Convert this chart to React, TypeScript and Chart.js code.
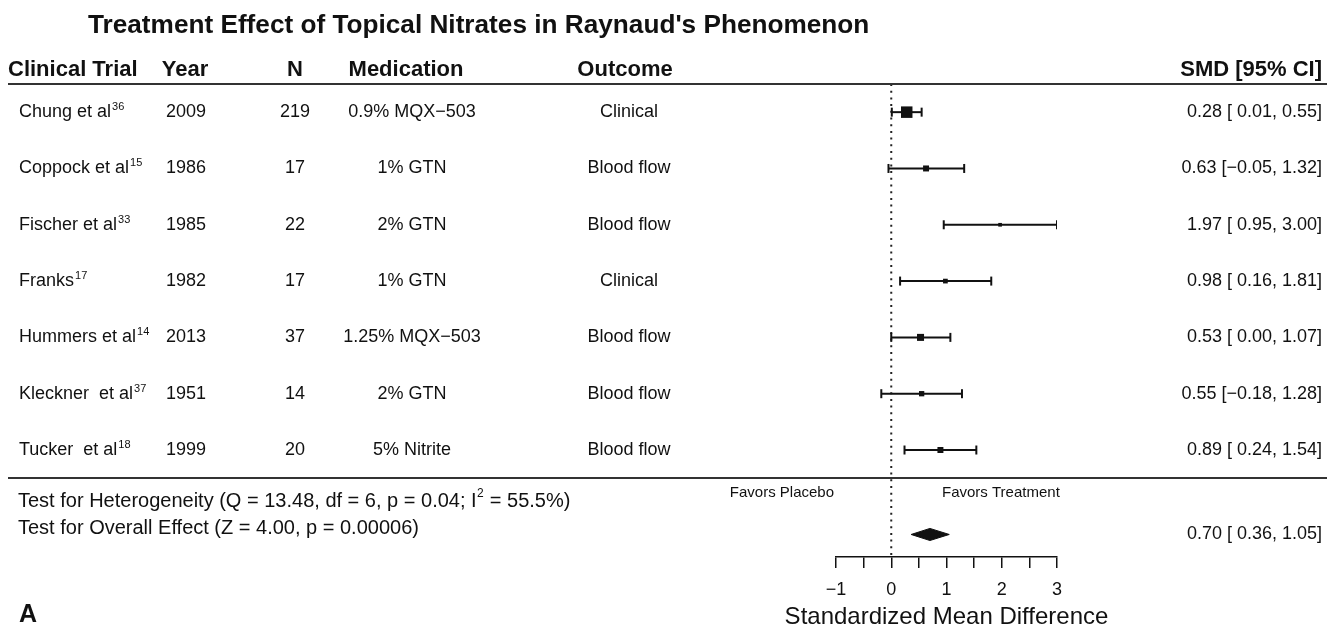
import React, { useEffect, useRef } from 'react';
import { Chart, registerables } from 'chart.js';

Chart.register(...registerables);

const FONT = '"Liberation Sans", Arial, Helvetica, sans-serif';
const INK = '#111111';

// ---- data ----
const chartTitle = "Treatment Effect of Topical Nitrates in Raynaud's Phenomenon";
const headers = ['Clinical Trial', 'Year', 'N', 'Medication', 'Outcome', 'SMD [95% CI]'];
const trials = ['Chung et al', 'Coppock et al', 'Fischer et al', 'Franks', 'Hummers et al', 'Kleckner  et al', 'Tucker  et al'];
const refs = ['36', '15', '33', '17', '14', '37', '18'];
const years = ['2009', '1986', '1985', '1982', '2013', '1951', '1999'];
const sampleN = [219, 17, 22, 17, 37, 14, 20];
const medications = ['0.9% MQX\u2212503', '1% GTN', '2% GTN', '1% GTN', '1.25% MQX\u2212503', '2% GTN', '5% Nitrite'];
const outcomes = ['Clinical', 'Blood flow', 'Blood flow', 'Clinical', 'Blood flow', 'Blood flow', 'Blood flow'];
const smd = [0.28, 0.63, 1.97, 0.98, 0.53, 0.55, 0.89];
const ciLow = [0.01, -0.05, 0.95, 0.16, 0.0, -0.18, 0.24];
const ciHigh = [0.55, 1.32, 3.0, 1.81, 1.07, 1.28, 1.54];
// relative study weight (box size relative to the largest box)
const relWeight = [100, 52, 32, 41, 61, 46, 52];
const overallSMD = [0.7];
const overallLow = [0.36];
const overallHigh = [1.05];
const hetTextA = 'Test for Heterogeneity (Q = 13.48, df = 6, p = 0.04; I';
const hetSup = '2';
const hetTextB = ' = 55.5%)';
const overallText = 'Test for Overall Effect (Z = 4.00, p = 0.00006)';
const favorsLeft = 'Favors Placebo';
const favorsRight = 'Favors Treatment';
const xTitle = 'Standardized Mean Difference';
const xTicks = [-1, -0.5, 0, 0.5, 1, 1.5, 2, 2.5, 3];
const xMajorTicks = [-1, 0, 1, 2, 3];
const panelLabel = 'A';

// ---- helpers ----
const minus = (v: number, d: number) => (v < 0 ? '\u2212' : '') + Math.abs(v).toFixed(d);
const lowFmt = (v: number) => (v < 0 ? '\u2212' : ' ') + Math.abs(v).toFixed(2);
const ciLabel = (e: number, l: number, h: number) => `${e.toFixed(2)} [${lowFmt(l)}, ${minus(h, 2)}]`;

const rowsY = trials.map((_, i) => trials.length - i);
const Y_TOP = 7.5;
const Y_BOTTOM = -0.9;
const SUMMARY_Y = -0.5;
const MAX_BOX = 11.5;

const fnt = (s: number, b = false) => `${b ? 'bold ' : ''}${s}px ${FONT}`;

const tablePlugin = {
  id: 'forestTable',
  beforeDraw(chart: any) {
    const { ctx, width, height } = chart;
    ctx.save();
    ctx.fillStyle = '#ffffff';
    ctx.fillRect(0, 0, width, height);
    ctx.restore();
  },
  afterDraw(chart: any) {
    const { ctx } = chart;
    const ys = chart.scales.y;
    const xs = chart.scales.x;
    const py = (v: number) => ys.getPixelForValue(v);
    ctx.save();
    ctx.fillStyle = INK;
    ctx.textBaseline = 'middle';

    // title
    ctx.font = fnt(26.2, true);
    ctx.textAlign = 'left';
    ctx.fillText(chartTitle, 88, 26);

    // header row
    const hy = py(Y_TOP) - 14;
    ctx.font = fnt(22, true);
    ctx.textAlign = 'left';
    ctx.fillText(headers[0], 8, hy);
    ctx.textAlign = 'center';
    ctx.fillText(headers[1], 185, hy);
    ctx.fillText(headers[2], 295, hy);
    ctx.fillText(headers[3], 406, hy);
    ctx.fillText(headers[4], 625, hy);
    ctx.textAlign = 'right';
    ctx.fillText(headers[5], 1322, hy);

    // rules
    ctx.strokeStyle = '#333333';
    ctx.lineWidth = 2;
    [Y_TOP, 0.5].forEach((v) => {
      const y = Math.round(py(v));
      ctx.beginPath();
      ctx.moveTo(8, y);
      ctx.lineTo(1327, y);
      ctx.stroke();
    });

    // study rows
    trials.forEach((name, i) => {
      const y = py(rowsY[i]);
      ctx.font = fnt(18);
      ctx.textAlign = 'left';
      ctx.fillText(name, 19, y);
      const w = ctx.measureText(name).width;
      ctx.font = fnt(11);
      ctx.fillText(refs[i], 19 + w + 1, y - 5);
      ctx.font = fnt(18);
      ctx.textAlign = 'center';
      ctx.fillText(years[i], 186, y);
      ctx.fillText(String(sampleN[i]), 295, y);
      ctx.fillText(medications[i], 412, y);
      ctx.fillText(outcomes[i], 629, y);
      ctx.textAlign = 'right';
      ctx.fillText(ciLabel(smd[i], ciLow[i], ciHigh[i]), 1322, y);
    });

    // heterogeneity / overall
    ctx.textAlign = 'left';
    const hetY = py(0.094);
    ctx.font = fnt(20);
    ctx.fillText(hetTextA, 18, hetY);
    let x = 18 + ctx.measureText(hetTextA).width;
    ctx.font = fnt(12);
    ctx.fillText(hetSup, x + 0.5, hetY - 7);
    x += ctx.measureText(hetSup).width + 1;
    ctx.font = fnt(20);
    ctx.fillText(hetTextB, x, hetY);
    ctx.fillText(overallText, 18, py(-0.385));

    ctx.font = fnt(18);
    ctx.textAlign = 'right';
    ctx.fillText(ciLabel(overallSMD[0], overallLow[0], overallHigh[0]), 1322, py(SUMMARY_Y));

    // favors labels
    ctx.font = fnt(15);
    const fy = py(0.236);
    ctx.textAlign = 'right';
    ctx.fillText(favorsLeft, 834, fy);
    ctx.textAlign = 'left';
    ctx.fillText(favorsRight, 942, fy);

    // x-axis title (drawn without width squeezing)
    ctx.font = fnt(24);
    ctx.textAlign = 'center';
    ctx.fillText(xTitle, xs.getPixelForValue((xs.min + xs.max) / 2), 617);

    // panel label
    ctx.font = fnt(25, true);
    ctx.textAlign = 'left';
    ctx.fillText(panelLabel, 19, 615);
    ctx.restore();
  },
};

export default function App() {
  const ref = useRef<HTMLCanvasElement>(null);
  useEffect(() => {
    document.body.style.margin = '0';
    const canvas = ref.current;
    if (!canvas) return;

    const ciDatasets = trials.map((t, i) => ({
      type: 'line',
      label: t,
      data: [
        { x: ciLow[i], y: rowsY[i] },
        { x: ciHigh[i], y: rowsY[i] },
      ],
      borderColor: INK,
      borderWidth: 2,
      pointStyle: 'line',
      pointRotation: 90,
      pointRadius: 4.5,
      pointHoverRadius: 4.5,
      pointBorderWidth: 2,
      pointBorderColor: INK,
      pointBackgroundColor: INK,
      fill: false,
      order: 5,
    }));

    const diamondHalf = 0.107;
    const datasets: any[] = [
      {
        type: 'line',
        label: 'null line',
        data: [
          { x: 0, y: Y_TOP },
          { x: 0, y: Y_BOTTOM },
        ],
        borderColor: '#222222',
        borderWidth: 2,
        borderDash: [2, 4.7],
        pointRadius: 0,
        fill: false,
        order: 10,
      },
      ...ciDatasets,
      {
        type: 'line',
        label: 'SMD',
        data: smd.map((v, i) => ({ x: v, y: rowsY[i] })),
        showLine: false,
        pointStyle: 'rect',
        pointRadius: relWeight.map((w) => (MAX_BOX * w) / 100 / Math.SQRT2),
        pointHoverRadius: relWeight.map((w) => (MAX_BOX * w) / 100 / Math.SQRT2),
        pointBackgroundColor: INK,
        pointBorderWidth: 0,
        order: 1,
      },
      {
        type: 'line',
        label: 'overall upper',
        data: [
          { x: overallLow[0], y: SUMMARY_Y },
          { x: overallSMD[0], y: SUMMARY_Y + diamondHalf },
          { x: overallHigh[0], y: SUMMARY_Y },
        ],
        borderColor: INK,
        borderWidth: 1,
        backgroundColor: INK,
        pointRadius: 0,
        fill: '+1',
        order: 1,
      },
      {
        type: 'line',
        label: 'overall lower',
        data: [
          { x: overallLow[0], y: SUMMARY_Y },
          { x: overallSMD[0], y: SUMMARY_Y - diamondHalf },
          { x: overallHigh[0], y: SUMMARY_Y },
        ],
        borderColor: INK,
        borderWidth: 1,
        backgroundColor: INK,
        pointRadius: 0,
        fill: false,
        order: 1,
      },
    ];

    const chart = new Chart(canvas, {
      type: 'line',
      data: { datasets },
      options: {
        responsive: false,
        animation: false,
        events: [],
        layout: { padding: { left: 836, right: 270, top: 84, bottom: 0 } },
        plugins: {
          legend: { display: false },
          tooltip: { enabled: false },
          title: { display: false },
        },
        scales: {
          x: {
            type: 'linear',
            position: 'bottom',
            min: -1,
            max: 3,
            afterBuildTicks: (s: any) => {
              s.ticks = xTicks.map((value) => ({ value }));
            },
            afterFit: (s: any) => {
              s.height = 70;
            },
            ticks: {
              autoSkip: false,
              maxRotation: 0,
              padding: 11,
              color: INK,
              font: { family: FONT, size: 18 },
              callback: (v: any) => (xMajorTicks.includes(Number(v)) ? minus(Number(v), 0) : ''),
            },
            grid: {
              display: true,
              drawOnChartArea: false,
              drawTicks: true,
              tickLength: 11,
              color: INK,
              lineWidth: 1.5,
            },
            border: { display: true, color: INK, width: 1.5 },
            title: { display: false, text: xTitle },
          },
          y: { type: 'linear', min: Y_BOTTOM, max: Y_TOP, display: false },
        },
      } as any,
      plugins: [tablePlugin],
    } as any);
    return () => chart.destroy();
  }, []);

  return (
    <canvas
      ref={ref}
      width={1327}
      height={627}
      style={{ display: 'block', width: 1327, height: 627 }}
    />
  );
}
